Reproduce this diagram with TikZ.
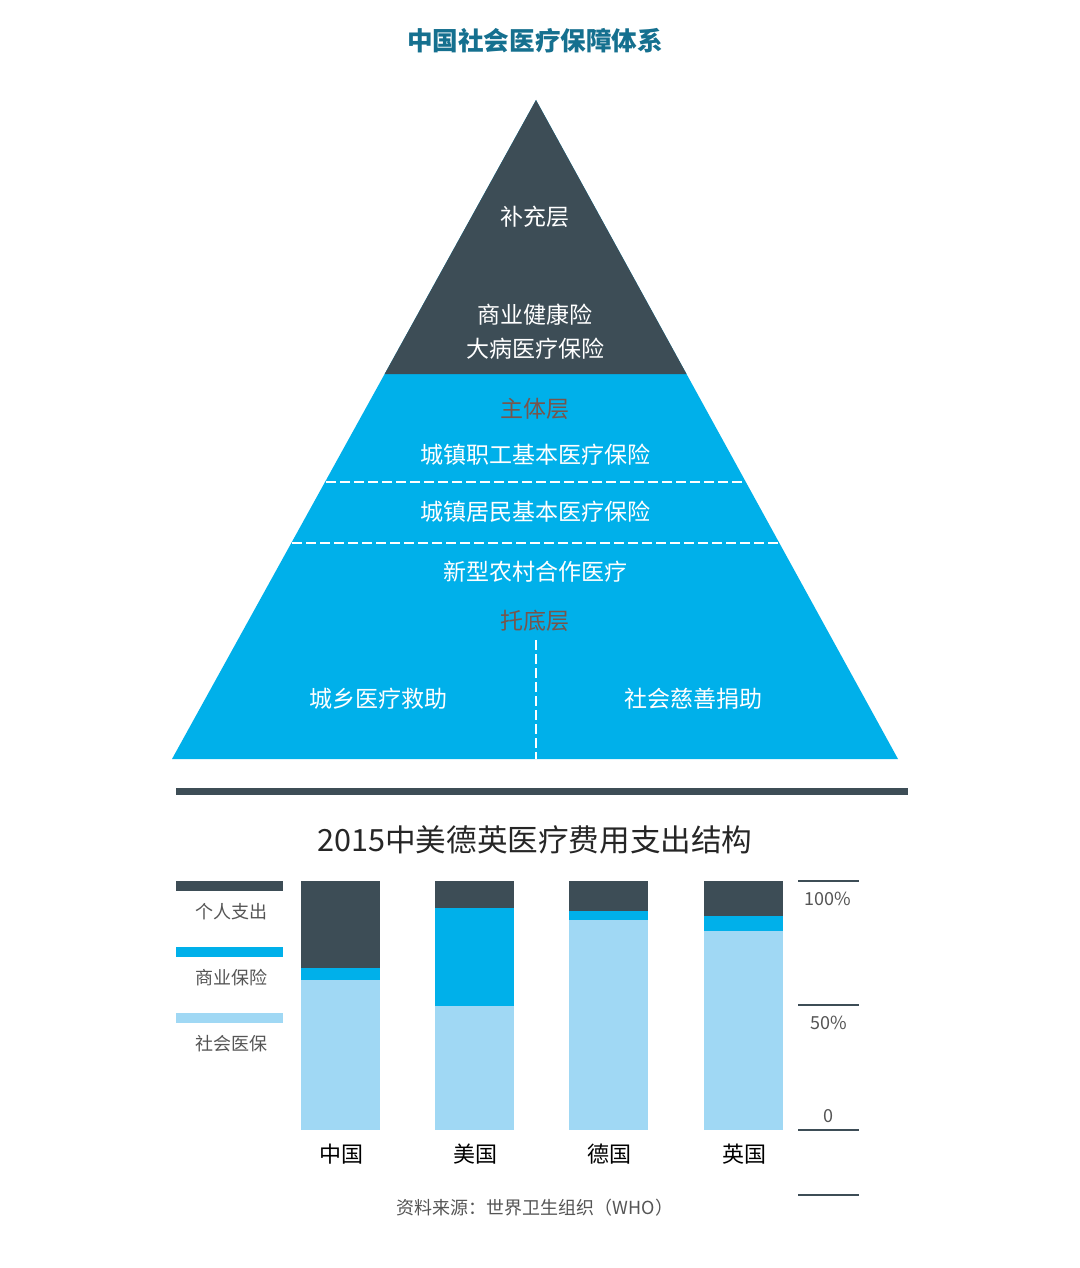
\documentclass[tikz,border=0pt]{standalone}
\usepackage{fontspec}
\setmainfont{Noto Sans CJK SC}
\usepackage{tikz}
\usetikzlibrary{calc}
\definecolor{darkslate}{HTML}{3D4D56}
\definecolor{skyblue}{HTML}{00B0EA}
\definecolor{paleblue}{HTML}{A0D8F4}
\definecolor{titleblue}{HTML}{15708F}
\definecolor{layerbrown}{RGB}{120,85,75}
\definecolor{textgray}{HTML}{555555}
\tikzset{
  pyrtext/.style={text=white, font=\fontsize{11.5}{17}\selectfont, align=center, inner sep=0pt},
  layertext/.style={text=layerbrown, font=\fontsize{11.5}{14}\selectfont, inner sep=0pt},
  legtext/.style={text=textgray, font=\fontsize{9}{11}\selectfont, inner sep=0pt},
  splitline/.style={white, line width=1pt, dash pattern=on 5pt off 2pt}
}

\begin{document}
\begin{tikzpicture}[x=0.5pt, y=-0.5pt]
        \useasboundingbox[fill=white] (0,0) rectangle (1080,1268);

        \node[text=titleblue, font=\fontsize{12.8}{15}\bfseries\selectfont, inner sep=0pt] (title) at (535,41) {中国社会医疗保障体系};

        \coordinate (apex) at (536,100);
        \coordinate (bl) at (172,759);
        \coordinate (br) at (898,759);
        \fill[skyblue] (apex) -- (bl) -- (br) -- cycle;
        \fill[darkslate] (apex) -- ($(apex)!0.4158!(bl)$) -- ($(apex)!0.4158!(br)$) -- cycle;
        \draw[splitline] (326,482) -- (744,482);
        \draw[splitline] (292,543) -- (778,543);
        \draw[splitline] (536,640) -- (536,759);

        \node[pyrtext] (supp) at (535,217) {补充层};
        \node[pyrtext] (commercial) at (535,332) {商业健康险\\大病医疗保险};
        \node[layertext] (main) at (535,409) {主体层};
        \node[pyrtext] (worker) at (535,455) {城镇职工基本医疗保险};
        \node[pyrtext] (resident) at (535,512) {城镇居民基本医疗保险};
        \node[pyrtext] (rural) at (535,572) {新型农村合作医疗};
        \node[layertext] (base) at (535,621) {托底层};
        \node[pyrtext] (relief) at (378,699) {城乡医疗救助};
        \node[pyrtext] (charity) at (693,699) {社会慈善捐助};

        \fill[darkslate] (176,788) rectangle (908,795);

        \node[text=black!85, font=\fontsize{15.3}{18}\selectfont, inner sep=0pt] (charttitle) at (535,840) {2015中美德英医疗费用支出结构};

        \foreach \y/\col/\lab in {881/darkslate/个人支出, 947/skyblue/商业保险, 1013/paleblue/社会医保} {
          \fill[\col] (176,\y) rectangle (283,\y+10);
          \node[legtext] (leg\y) at (231,\y+31) {\lab};
        }

        \foreach \x/\lab/\p/\c in {301/中国/968/980, 435/美国/908/1006, 569/德国/911/920, 704/英国/916/931} {
          \fill[darkslate] (\x,881) rectangle (\x+79,\p);
          \fill[skyblue] (\x,\p) rectangle (\x+79,\c);
          \fill[paleblue] (\x,\c) rectangle (\x+79,1130);
          \node[font=\fontsize{11}{13}\selectfont, inner sep=0pt] (country\x) at (\x+40,1154) {\lab};
        }

        \foreach \y in {881, 1005, 1130, 1195} {
          \draw[darkslate, line width=1pt] (798,\y) -- (859,\y);
        }
        \node[legtext] (pct100) at (828,899) {100\%};
        \node[legtext] (pct50) at (829,1023) {50\%};
        \node[legtext] (pct0) at (828,1116) {0};

        \node[legtext] (source) at (535,1208) {资料来源：世界卫生组织（WHO）};
      \end{tikzpicture}
\end{document}
